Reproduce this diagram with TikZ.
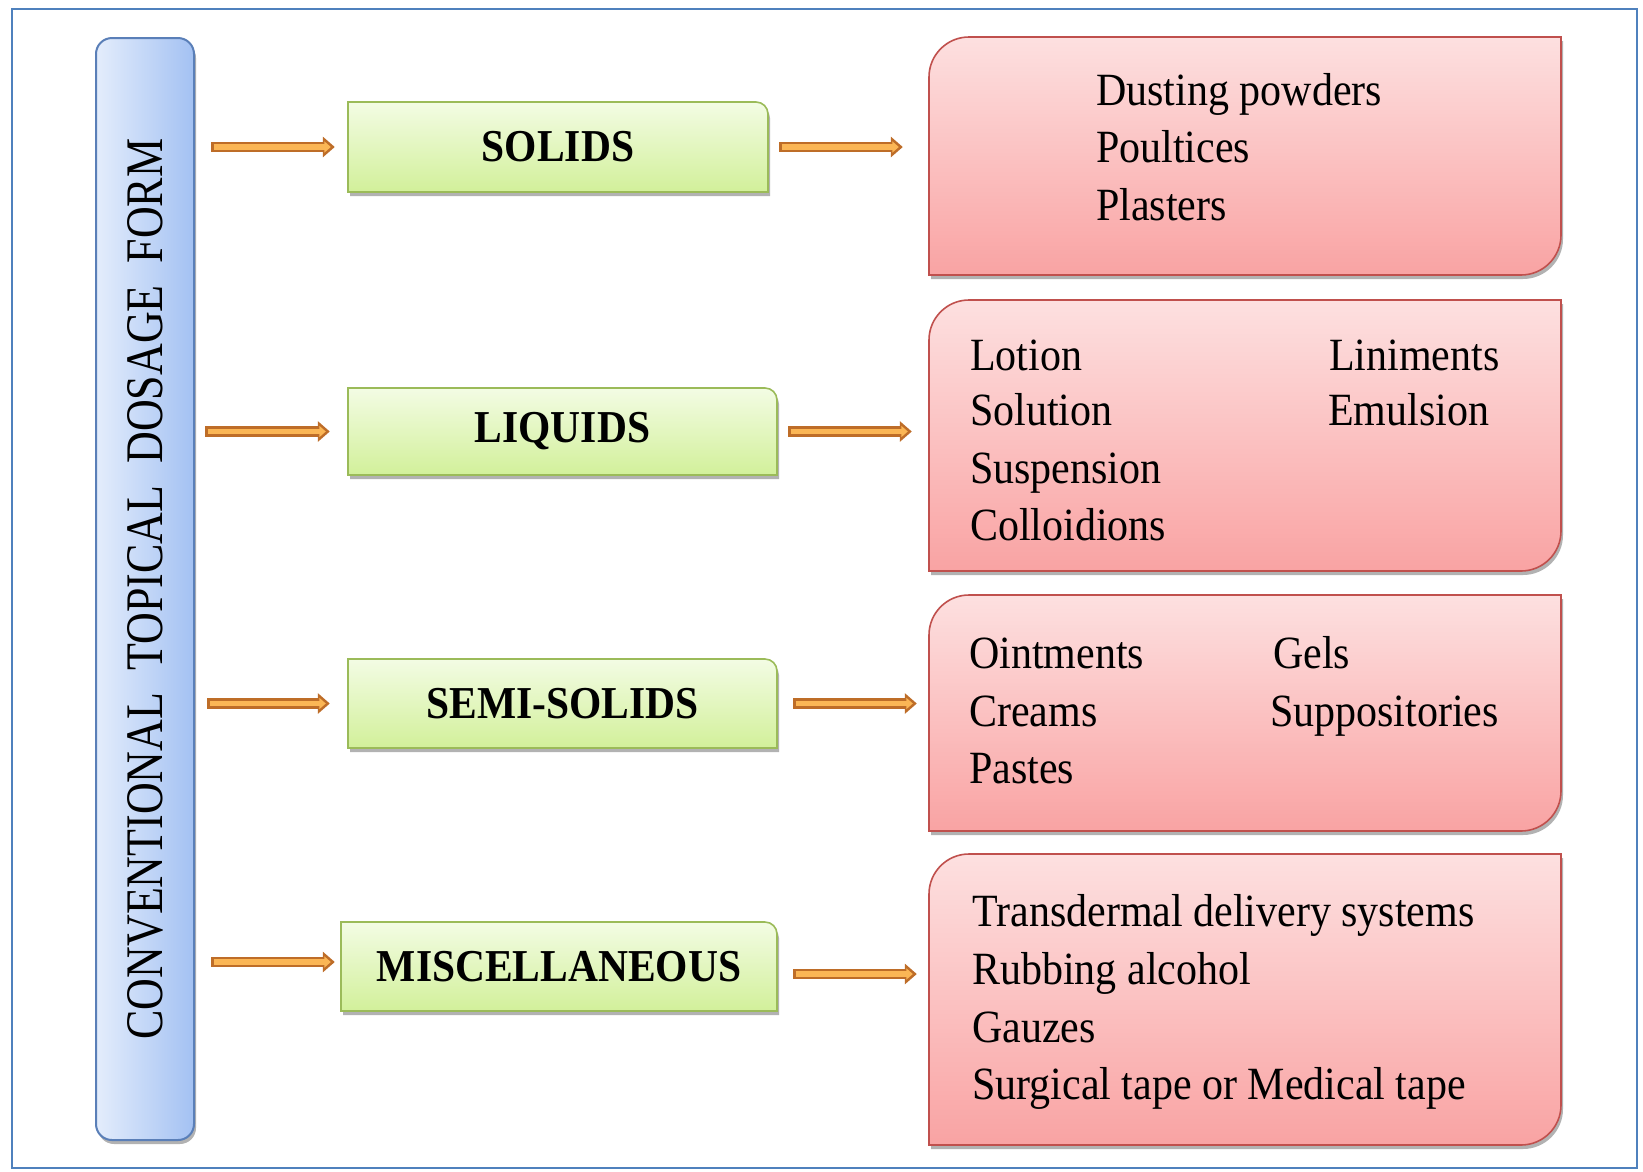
\documentclass[tikz,border=0pt]{standalone}
\usepackage{fontspec}
\setmainfont{Liberation Serif}
\usetikzlibrary{shadows,arrows.meta,calc}
\definecolor{framec}{HTML}{4F81BD}
\definecolor{barborder}{HTML}{5A7FB8}
\definecolor{barl}{HTML}{E4EDFC}
\definecolor{barr}{HTML}{A3C1F2}
\definecolor{grborder}{HTML}{9BBB59}
\definecolor{grtop}{HTML}{F3FCE4}
\definecolor{grbot}{HTML}{D2F09A}
\definecolor{rdborder}{HTML}{C0504D}
\definecolor{rdtop}{HTML}{FDE0E0}
\definecolor{rdbot}{HTML}{F9A3A3}
\definecolor{arrdark}{HTML}{BE6D28}
\definecolor{arrlight}{HTML}{FBB655}
\tikzset{
  shad/.style={drop shadow={shadow xshift=2pt, shadow yshift=-4pt, opacity=0.3, fill=black}},
  redbox/.style={draw=rdborder, line width=1.6pt, top color=rdtop, bottom color=rdbot, shad},
  greenbox/.style={draw=grborder, line width=1.6pt, top color=grtop, bottom color=grbot, shad},
  barbox/.style={draw=barborder, line width=2pt, rounded corners=16pt, left color=barl, right color=barr, shad, inner sep=0pt},
  glabel/.style={inner sep=0pt, font=\fontsize{41.5pt}{48pt}\selectfont\bfseries},
  rtext/.style={anchor=base west, inner sep=0pt, font=\fontsize{42pt}{50pt}\selectfont},
  holder/.style={inner sep=0pt, draw=none},
  arrout/.style={draw=arrdark, line width=10.5pt, -{Triangle[width=20pt,length=12pt]}},
  arrin/.style={draw=arrlight, line width=5.5pt, -{Triangle[width=11pt,length=6.5pt]}}
}
\newcommand\tall[1]{\scalebox{1}[1.1]{#1}}
\newcommand\greenshape[4]{%
  \path[greenbox] (#1,#2) -- ({#3-12},#2) .. controls ({#3-5.4},#2) and (#3,{#2+5.4}) .. (#3,{#2+12}) -- (#3,#4) -- (#1,#4) -- cycle;}
\newcommand\redshape[4]{%
  \path[redbox] (#1,#4) -- (#1,{#2+40}) .. controls (#1,{#2+17.9}) and ({#1+17.9},#2) .. ({#1+40},#2) -- (#3,#2) -- (#3,{#4-40}) .. controls (#3,{#4-17.9}) and ({#3-17.9},#4) .. ({#3-40},#4) -- cycle;}
\newcommand\fatarrow[4]{%
  \draw[arrout, shorten <=#3pt, shorten >=#4pt] #1 -- #2;
  \pgfmathsetmacro\arrsa{#3+2.5}\pgfmathsetmacro\arrsb{#4+4}%
  \draw[arrin, shorten <=\arrsa pt, shorten >=\arrsb pt] #1 -- #2;}
\begin{document}
\begin{tikzpicture}[x=1pt,y=-1pt]
\useasboundingbox (0,0) rectangle (1643,1171);
\fill[white] (0,0) rectangle (1643,1171);
\draw[framec, line width=2.2pt] (12,9) rectangle (1637,1168);

% vertical bar
\node[barbox, minimum width=98pt, minimum height=1102pt] (bar) at (145,589)
  {\rotatebox{90}{\scalebox{1}[1.2]{\fontsize{44pt}{44pt}\selectfont CONVENTIONAL\hspace{0.5em}TOPICAL\hspace{0.5em}DOSAGE\hspace{0.5em}FORM}}};

% green boxes
\greenshape{348}{102}{768}{192}
\node[glabel, minimum width=420pt, minimum height=90pt] (g1) at (558,147) {\tall{SOLIDS}};
\greenshape{348}{388}{777}{475}
\node[glabel, minimum width=429pt, minimum height=87pt] (g2) at (562.5,431.5) {\tall{LIQUIDS}};
\greenshape{348}{659}{777}{748}
\node[glabel, minimum width=429pt, minimum height=89pt] (g3) at (562.5,703.5) {\tall{SEMI-SOLIDS}};
\greenshape{341}{922}{777}{1011}
\node[glabel, minimum width=436pt, minimum height=89pt] (g4) at (559,966.5) {\tall{MISCELLANEOUS}};

% red boxes
\redshape{929}{37}{1561}{275}
\node[holder, minimum width=632pt, minimum height=238pt] (r1) at (1245,156) {};
\redshape{929}{300}{1561}{571}
\node[holder, minimum width=632pt, minimum height=271pt] (r2) at (1245,435.5) {};
\redshape{929}{595}{1561}{831}
\node[holder, minimum width=632pt, minimum height=236pt] (r3) at (1245,713) {};
\redshape{929}{854}{1561}{1145}
\node[holder, minimum width=632pt, minimum height=291pt] (r4) at (1245,999.5) {};

% arrows
\fatarrow{(bar.east |- g1.west)}{(g1.west)}{16}{13}
\fatarrow{(g1.east)}{(g1.east -| r1.west)}{11}{26}
\fatarrow{(bar.east |- g2.west)}{(g2.west)}{10}{18}
\fatarrow{(g2.east)}{(g2.east -| r2.west)}{11}{17}
\fatarrow{(bar.east |- g3.west)}{(g3.west)}{12}{18}
\fatarrow{(g3.east)}{(g3.east -| r3.west)}{16}{12}
\fatarrow{($(bar.east |- g4.west)+(0,-4.5)$)}{($(g4.west)+(0,-4.5)$)}{16}{6}
\fatarrow{($(g4.east)+(0,7.5)$)}{($(g4.east -| r4.west)+(0,7.5)$)}{16}{12}

% texts
\node[rtext] (t11) at (1096,105) {\tall{Dusting powders}};
\node[rtext] (t12) at (1096,162) {\tall{Poultices}};
\node[rtext] (t13) at (1096,220) {\tall{Plasters}};

\node[rtext] (t21) at (970,370) {\tall{Lotion}};
\node[rtext] (t22) at (970,425) {\tall{Solution}};
\node[rtext] (t23) at (970,483) {\tall{Suspension}};
\node[rtext] (t24) at (970,540) {\tall{Colloidions}};
\node[rtext] (t25) at (1329,370) {\tall{Liniments}};
\node[rtext] (t26) at (1328,425) {\tall{Emulsion}};

\node[rtext] (t31) at (969,668) {\tall{Ointments}};
\node[rtext] (t32) at (969,726) {\tall{Creams}};
\node[rtext] (t33) at (969,783) {\tall{Pastes}};
\node[rtext] (t34) at (1273,668) {\tall{Gels}};
\node[rtext] (t35) at (1270,726) {\tall{Suppositories}};

\node[rtext] (t41) at (972,926) {\tall{Transdermal delivery systems}};
\node[rtext] (t42) at (972,984) {\tall{Rubbing alcohol}};
\node[rtext] (t43) at (972,1042) {\tall{Gauzes}};
\node[rtext] (t44) at (972,1099) {\tall{Surgical tape or Medical tape}};
\end{tikzpicture}
\end{document}
